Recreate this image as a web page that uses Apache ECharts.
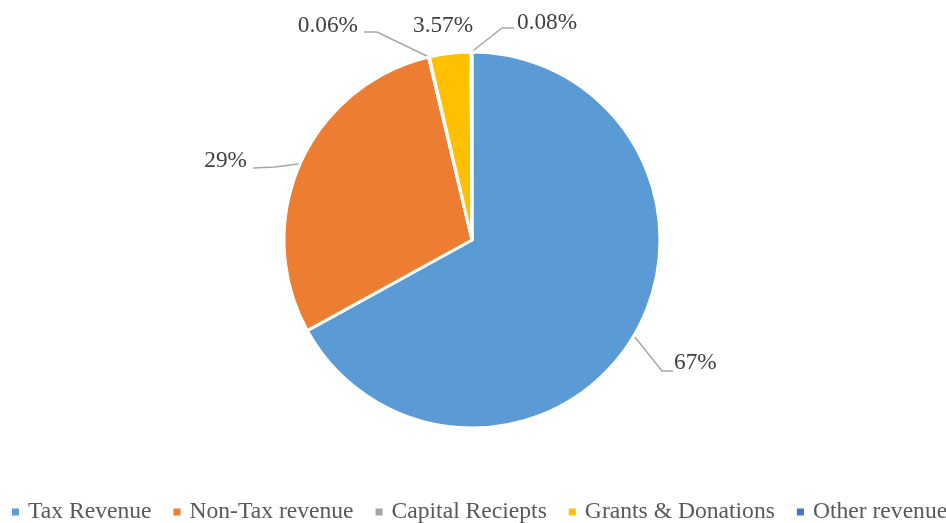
<!DOCTYPE html>
<html lang="en">
<head>
    <meta charset="UTF-8">
    <title>Revenue share</title>
    <script src="https://cdn.jsdelivr.net/npm/echarts@6/dist/echarts.min.js"></script>
    <style>
        html, body { margin: 0; padding: 0; background: #fff; }
    </style>
</head>
<body>
    <div id="main" style="width: 946px;height: 523px"></div>
    <script>
        // data (share of total, %)
        var categories = ['Tax Revenue', 'Non-Tax revenue', 'Capital Reciepts', 'Grants & Donations', 'Other revenue'];
        var shares = [67.0, 29.29, 0.06, 3.57, 0.08];
        var colors = ['#5B9BD5', '#ED7D31', '#A5A5A5', '#FFC000', '#4472C4'];

        // where each label sits and how its leader line bends (pixels)
        var labelSpots = [
            { x: 674, y: 363, align: 'left', mid: [662, 371], end: [673, 371] },
            { x: 247, y: 161, align: 'right', mid: [275, 167], end: [253, 168] },
            { x: 358, y: 26, align: 'right', mid: [377, 32], end: [364, 32] },
            { x: 413, y: 26, align: 'left', hideLine: true },
            { x: 517, y: 23, align: 'left', mid: [502, 28], end: [514, 28] }
        ];

        var myChart = echarts.init(document.getElementById('main'));

        var pieData = categories.map(function (name, i) {
            return {
                name: name,
                value: shares[i],
                itemStyle: { color: colors[i] },
                labelLine: { show: !labelSpots[i].hideLine }
            };
        });

        myChart.setOption({
            animation: false,
            legend: {
                data: categories,
                orient: 'horizontal',
                left: 10,
                top: 500,
                padding: 0,
                width: 1100,
                itemWidth: 9,
                itemHeight: 9,
                itemGap: 20,
                icon: 'rect',
                textStyle: {
                    fontFamily: 'Liberation Serif',
                    fontSize: 23.6,
                    color: '#595959',
                    padding: [0, 0, 0, 3]
                }
            },
            series: [{
                type: 'pie',
                center: [472, 240],
                radius: 188,
                startAngle: 90,
                clockwise: true,
                avoidLabelOverlap: false,
                itemStyle: { borderColor: '#fff', borderWidth: 3 },
                label: {
                    show: true,
                    position: 'outside',
                    fontFamily: 'Liberation Serif',
                    fontSize: 23.3,
                    color: '#404040',
                    formatter: function (p) {
                        var v = p.value;
                        return (v >= 10 ? Math.round(v) : v.toFixed(2)) + '%';
                    }
                },
                labelLine: {
                    length: 15,
                    length2: 10,
                    lineStyle: { color: '#A6A6A6', width: 1.5 }
                },
                labelLayout: function (params) {
                    var s = labelSpots[params.dataIndex];
                    var out = { x: s.x, y: s.y, align: s.align, verticalAlign: 'middle' };
                    if (!s.hideLine && params.labelLinePoints) {
                        var start = params.labelLinePoints[0];
                        out.labelLinePoints = [start, s.mid, s.end];
                    }
                    return out;
                },
                emphasis: { disabled: true },
                data: pieData
            }]
        });
    </script>
</body>
</html>
